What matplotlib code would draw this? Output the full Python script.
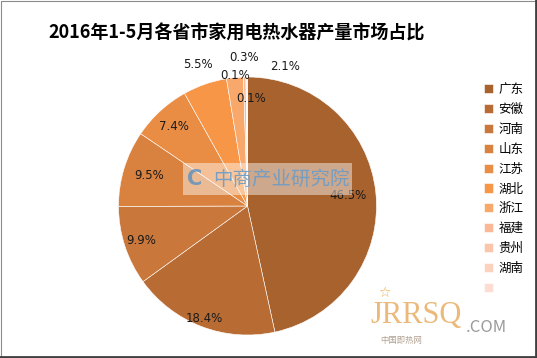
import numpy as np
import matplotlib
matplotlib.use('Agg')
from matplotlib import pyplot as plt
from matplotlib.lines import Line2D
from matplotlib.patches import Rectangle

plt.rcParams['font.family'] = ['Noto Sans CJK SC', 'DejaVu Sans']

# data
provinces = ['广东', '安徽', '河南', '山东', '江苏', '湖北', '浙江', '福建', '贵州', '湖南', '']
shares = [46.5, 18.4, 9.9, 9.5, 7.4, 5.5, 2.1, 0.3, 0.1, 0.1, 0.0]
share_labels = ['46.5%', '18.4%', '9.9%', '9.5%', '7.4%', '5.5%', '2.1%', '0.3%', '0.1%', '0.1%', '']
colours = ['#A7622E', '#B86C34', '#C9773A', '#D9823F', '#EA8D44', '#F79646',
           '#F9A86C', '#FAB894', '#FBC5A9', '#FCD2BE', '#FDDDD3']

# label placement: radius factor, and angle override for the crowded thin slices
label_radius = [0.78, 0.93, 0.87, 0.80, 0.84, 1.16, 1.12, 1.15, 1.02, 0.83, 1.0]
label_angle = [None, None, None, None, None, None, 75.0, 91.5, 95.5, 88.0, None]

W, H = 537, 358
fig = plt.figure(figsize=(W / 100, H / 100), dpi=100)

cx, cy, r = 247.5, 206, 129
ax = fig.add_axes([(cx - r) / W, (H - cy - r) / H, 2 * r / W, 2 * r / H])
wedges, _ = ax.pie(shares, colors=colours, startangle=90, counterclock=False,
                   wedgeprops=dict(edgecolor='white', linewidth=0.4))
ax.set_xlim(-1, 1)
ax.set_ylim(-1, 1)
ax.set_aspect('equal')
ax.axis('off')

for w, lab, rad, ang in zip(wedges, share_labels, label_radius, label_angle):
    if not lab:
        continue
    a = ang if ang is not None else (w.theta1 + w.theta2) / 2
    t = np.deg2rad(a)
    ax.text(rad * np.cos(t), rad * np.sin(t), lab, ha='center', va='center',
            fontsize=8.5, color='#1a1a1a', clip_on=False, family='DejaVu Sans')

fig.text(48 / W, 1 - 33 / H, '2016年1-5月各省市家用电热水器产量市场占比',
         fontsize=13, fontweight='bold', ha='left', va='center', color='black')

fig.legend(wedges, provinces, loc='upper left', bbox_to_anchor=(479 / W, 1 - 78 / H),
           frameon=False, fontsize=9, handlelength=0.75, handleheight=0.75,
           handletextpad=0.4, labelspacing=0.55, borderaxespad=0)

# watermark
fig.add_artist(Rectangle((183 / W, 1 - 195 / H), 169 / W, 32 / H, transform=fig.transFigure,
                         facecolor='white', edgecolor='none', alpha=0.45))
fig.text(281 / W, 1 - 179 / H, '中商产业研究院', fontsize=14, color='#6A9CC8', alpha=0.9,
         ha='center', va='center')
fig.text(195 / W, 1 - 179 / H, 'C', fontsize=15, fontweight='bold', color='#5A8FBF',
         alpha=0.8, ha='center', va='center', family='DejaVu Sans')
fig.text(416 / W, 1 - 316 / H, 'JRRSQ', fontsize=22, color='#E8A85A', alpha=0.8,
         ha='center', va='center', family='Liberation Serif')
fig.text(384 / W, 1 - 293 / H, '☆', fontsize=10, color='#E8B050', ha='center', va='center',
         family='DejaVu Sans')
fig.text(486 / W, 1 - 328 / H, '.COM', fontsize=12, color='#9a9a9a', ha='center', va='center')
fig.text(401 / W, 1 - 341 / H, '中国即热网', fontsize=6, color='#b0a090', ha='center', va='center')

# frame around the picture
fig.add_artist(Line2D([0.5 / W, 0.5 / W, 1 - 2 / W], [0, 1 - 0.5 / H, 1 - 0.5 / H],
                      color='#8c8c8c', lw=0.8, transform=fig.transFigure))
fig.add_artist(Line2D([1 - 1.5 / W, 1 - 1.5 / W, 0], [1, 1.5 / H, 1.5 / H],
                      color='#404040', lw=2, transform=fig.transFigure))

fig.savefig('out.png', dpi=100, facecolor='white')
